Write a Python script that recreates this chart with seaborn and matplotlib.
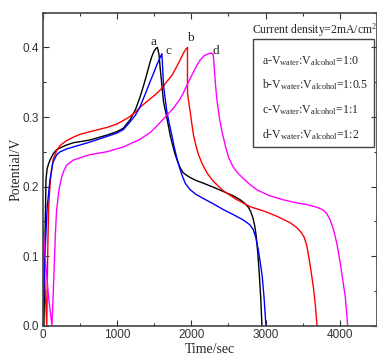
import matplotlib
matplotlib.use('Agg')
import matplotlib.pyplot as plt
from matplotlib.patches import Rectangle
from matplotlib.ticker import MultipleLocator, FormatStrFormatter
import pandas as pd
import seaborn as sns

# curve a: Vwater:Valcohol = 1:0 (black)
t_a = [17, 30, 44, 60, 80, 98, 140, 187, 300, 411, 637, 862, 1000, 1086, 1176, 1250, 1311,
       1360, 1400, 1440, 1469, 1500, 1527, 1545,
       1565, 1581, 1604, 1626, 1671, 1716, 1750, 1783, 1820, 1851, 1890, 1940, 1985, 2060,
       2160, 2300, 2430, 2560, 2659, 2720, 2770, 2800, 2830, 2855, 2875, 2895, 2915, 2935, 2951]
v_a = [0.0, 0.12, 0.21, 0.226, 0.233, 0.238, 0.247, 0.253, 0.259, 0.263, 0.267, 0.274, 0.279,
       0.284, 0.296, 0.311, 0.329, 0.346, 0.361, 0.377, 0.387, 0.395, 0.399, 0.40,
       0.39, 0.371, 0.346, 0.322, 0.299, 0.274, 0.259, 0.246, 0.235, 0.227, 0.22, 0.216, 0.213,
       0.209, 0.205, 0.199, 0.193, 0.187, 0.181, 0.176, 0.17, 0.164, 0.155, 0.143, 0.128, 0.105,
       0.075, 0.04, 0.0]

# curve b: 1:0.5 (red)
t_b = [0, 25, 55, 60, 70, 80, 100, 120, 143, 190, 233, 320, 411, 500, 637, 750, 862, 1000,
       1150, 1250, 1311, 1400, 1536, 1600, 1671, 1740, 1806, 1850, 1895, 1930, 1949,
       1949, 1965, 1985, 2005, 2030, 2060, 2097, 2150, 2210, 2270, 2322, 2430, 2600, 2794,
       3000, 3158, 3333, 3420, 3480, 3520, 3555, 3580, 3610, 3643, 3670, 3693]
v_b = [0.125, 0.07, 0.0, 0.05, 0.12, 0.17, 0.205, 0.225, 0.24, 0.252, 0.259, 0.266, 0.271,
       0.275, 0.279, 0.282, 0.285, 0.29, 0.299, 0.307, 0.314, 0.322, 0.334, 0.341, 0.351,
       0.36, 0.373, 0.382, 0.392, 0.398, 0.40,
       0.335, 0.322, 0.308, 0.292, 0.274, 0.26, 0.246, 0.232, 0.22, 0.211, 0.205, 0.194,
       0.182, 0.171, 0.164, 0.157, 0.148, 0.141, 0.134, 0.127, 0.115, 0.1, 0.08, 0.056, 0.03, 0.0]

# curve c: 1:1 (blue)
t_c = [0, 30, 60, 98, 139, 190, 233, 320, 411, 637, 862, 1000, 1086, 1176, 1250, 1311, 1380,
       1446, 1500, 1536, 1570, 1604,
       1615, 1626, 1650, 1671, 1705, 1738, 1770, 1806, 1840, 1873, 1918, 1980, 2060, 2160,
       2300, 2430, 2560, 2700, 2790, 2835, 2870, 2902, 2930, 2956, 2980, 3005]
v_c = [0.0, 0.1, 0.17, 0.21, 0.235, 0.246, 0.25, 0.254, 0.257, 0.264, 0.272, 0.277, 0.282,
       0.293, 0.303, 0.315, 0.333, 0.351, 0.365, 0.375, 0.383, 0.391,
       0.37, 0.346, 0.325, 0.308, 0.29, 0.274, 0.257, 0.241, 0.228, 0.217, 0.205, 0.196,
       0.189, 0.183, 0.175, 0.167, 0.16, 0.152, 0.145, 0.138, 0.126, 0.109, 0.09, 0.07, 0.04, 0.0]

# curve d: 1:2 (magenta)
t_d = [0, 40, 80, 125, 150, 170, 187, 220, 256, 290, 323, 411, 520, 637, 862, 1086, 1311,
       1450, 1536, 1650, 1761, 1850, 1895, 1960, 2030, 2080, 2120, 2170, 2210, 2260, 2291,
       2300, 2309, 2325, 2345, 2380, 2412, 2460, 2502, 2560, 2630, 2727, 2800, 2889, 3050,
       3240, 3400, 3564, 3700, 3780, 3830, 3870, 3915, 3960, 4006, 4040, 4074, 4105]
v_d = [0.148, 0.09, 0.04, 0.0, 0.07, 0.13, 0.166, 0.196, 0.214, 0.224, 0.231, 0.238, 0.242,
       0.246, 0.25, 0.257, 0.268, 0.278, 0.287, 0.3, 0.313, 0.326, 0.335, 0.35, 0.365, 0.375,
       0.382, 0.388, 0.39, 0.392, 0.391,
       0.385, 0.371, 0.348, 0.325, 0.298, 0.28, 0.258, 0.242, 0.229, 0.219, 0.209, 0.202,
       0.195, 0.187, 0.181, 0.177, 0.174, 0.17, 0.166, 0.16, 0.152, 0.138, 0.118, 0.09, 0.065,
       0.041, 0.0]

curve_names = ['a', 'b', 'c', 'd']
curve_colors = ['black', 'red', 'blue', 'magenta']
ratios = ['1:0', '1:0.5', '1:1', '1:2']
peak_labels = [('a', 1486, 0.408), ('b', 1985, 0.413), ('c', 1692, 0.395), ('d', 2336, 0.395)]

rows = []
for name, tt, vv in zip(curve_names, [t_a, t_b, t_c, t_d], [v_a, v_b, v_c, v_d]):
    for t, v in zip(tt, vv):
        rows.append(dict(curve=name, t=t, V=v))
df = pd.DataFrame(rows)

sns.set_style('ticks')
plt.rcParams['font.family'] = ['Liberation Sans', 'DejaVu Sans']
plt.rcParams['mathtext.fontset'] = 'custom'
plt.rcParams['mathtext.rm'] = 'Liberation Serif'
plt.rcParams['mathtext.it'] = 'Liberation Serif:italic'
serif = ['Liberation Serif', 'DejaVu Serif']

fig = plt.figure(figsize=(3.77, 3.58), dpi=100)
ax = fig.add_axes([42.7 / 377, 32.3 / 358, 1 - 42.7 / 377, 313 / 358])

sns.lineplot(data=df, x='t', y='V', hue='curve', units='curve', estimator=None, sort=False,
             palette=dict(zip(curve_names, curve_colors)), linewidth=1.0, legend=False, ax=ax)

ax.set_xlim(0, 4500)
ax.set_ylim(0, 0.45)
ax.xaxis.set_major_locator(MultipleLocator(1000))
ax.xaxis.set_minor_locator(MultipleLocator(500))
ax.yaxis.set_major_locator(MultipleLocator(0.1))
ax.yaxis.set_minor_locator(MultipleLocator(0.05))
ax.tick_params(which='both', direction='in', top=True, right=True, colors='#333333',
               labelsize=8.5, width=0.8, pad=2.5)
ax.tick_params(which='major', length=4)
ax.tick_params(which='minor', length=2.5)
ax.yaxis.set_major_formatter(FormatStrFormatter('%.1f'))
for s in ax.spines.values():
    s.set_color('#444444')
    s.set_linewidth(1.2)

ax.set_xlabel('Time/sec', family=serif, fontsize=10, labelpad=1)
ax.set_ylabel('Potential/V', family=serif, fontsize=10, labelpad=0)

for lab, t, v in peak_labels:
    ax.text(t, v, lab, family=serif, fontsize=9.5, ha='center', va='center')

ax.text(0.627, 0.934, 'Current density=2mA/cm$^2$', transform=ax.transAxes,
        family=serif, fontsize=8.4, va='baseline', ha='left')
ax.add_patch(Rectangle((0.629, 0.571), 0.362, 0.345, transform=ax.transAxes,
                       fill=False, edgecolor='#444444', linewidth=1.0))
for name, r, y in zip(curve_names, ratios, [0.836, 0.759, 0.679, 0.600]):
    ax.text(0.655, y, name + r'-V$_{\mathrm{water}}$:V$_{\mathrm{alcohol}}$=' + r,
            transform=ax.transAxes, family=serif, fontsize=8.6, va='baseline', ha='left')

fig.savefig('out.png', dpi=100)
